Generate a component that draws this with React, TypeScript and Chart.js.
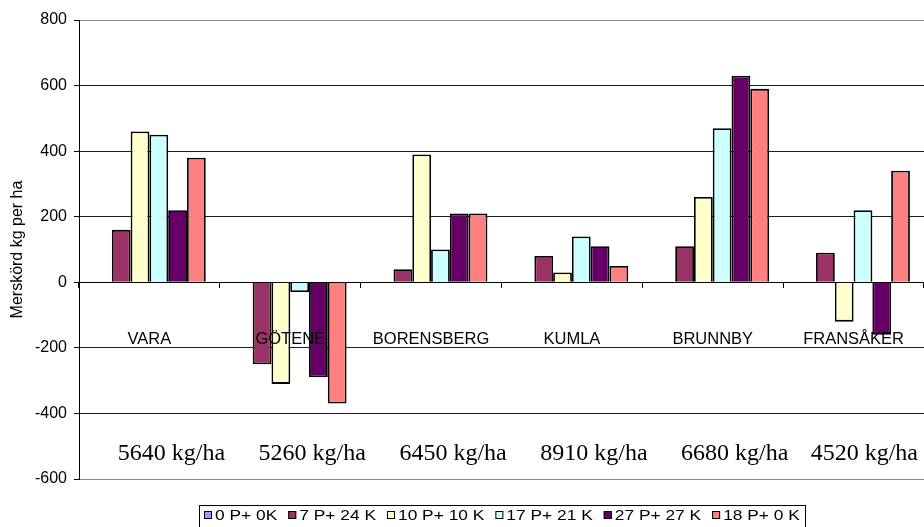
import React, { useEffect, useRef } from "react";
import { Chart, registerables } from "chart.js";

Chart.register(...registerables);

const categories = ["VARA", "GÖTENE", "BORENSBERG", "KUMLA", "BRUNNBY", "FRANSÅKER"];
const yieldLabels = ["5640 kg/ha", "5260 kg/ha", "6450 kg/ha", "8910 kg/ha", "6680 kg/ha", "4520 kg/ha"];

const seriesNames = ["0 P+ 0K", "7 P+ 24 K", "10 P+ 10 K", "17 P+ 21 K", "27 P+ 27 K", "18 P+ 0 K"];
const s0P0K = [0, 0, 0, 0, 0, 0];
const s7P24K = [160, -250, 40, 80, 110, 90];
const s10P10K = [460, -310, 390, 30, 260, -120];
const s17P21K = [450, -30, 100, 140, 470, 220];
const s27P27K = [220, -290, 210, 110, 630, -160];
const s18P0K = [380, -370, 210, 50, 590, 340];
const seriesValues = [s0P0K, s7P24K, s10P10K, s17P21K, s27P27K, s18P0K];
const seriesColors = ["#9999FF", "#993366", "#FFFFCC", "#CCFFFF", "#660066", "#FF8080"];

const yMin = -600;
const yMax = 800;
const yStep = 200;
const categoryLabelValue = -175;
const yieldLabelValue = -522;

const SANS = '"Liberation Sans", Arial, Helvetica, sans-serif';
const SERIF = '"Liberation Serif", "Times New Roman", Times, serif';

const annotationPlugin = {
  id: "annotations",
  afterDatasetsDraw(chart: any) {
    const { ctx, scales } = chart;
    const x = scales.x;
    const y = scales.y;
    ctx.save();
    ctx.fillStyle = "#000";
    ctx.textAlign = "center";
    ctx.textBaseline = "middle";
    ctx.font = `16.5px ${SANS}`;
    categories.forEach((c, i) => {
      ctx.fillText(c, x.getPixelForValue(i), y.getPixelForValue(categoryLabelValue));
    });
    ctx.font = `24px ${SERIF}`;
    yieldLabels.forEach((t, i) => {
      const w = ctx.measureText(t).width;
      let cx = x.getPixelForValue(i) + 22;
      const maxRight = chart.width - 6;
      if (cx + w / 2 > maxRight) cx = maxRight - w / 2;
      ctx.fillText(t, cx, y.getPixelForValue(yieldLabelValue));
    });
    ctx.restore();
  },
  afterDraw(chart: any) {
    const { ctx, chartArea } = chart;
    ctx.save();
    ctx.font = `15.5px ${SANS}`;
    const stretch = 1.12;
    const sq = 8;
    const gapText = 3;
    const gapItem = 11;
    const pad = 5;
    const items = chart.data.datasets.map((d: any) => ({
      label: d.label,
      color: d.backgroundColor,
      w: ctx.measureText(d.label).width * stretch,
    }));
    const total =
      items.reduce((s: number, it: any) => s + sq + gapText + it.w, 0) +
      gapItem * (items.length - 1) +
      pad * 2;
    const cx = (chartArea.left + chartArea.right) / 2;
    let x = Math.round(cx - total / 2);
    const top = Math.round(chartArea.bottom + 26);
    ctx.strokeStyle = "#000";
    ctx.lineWidth = 1;
    ctx.strokeRect(x + 0.5, top + 0.5, Math.round(total), 40);
    x += pad;
    const cy = top + 10;
    ctx.textAlign = "left";
    ctx.textBaseline = "middle";
    items.forEach((it: any) => {
      ctx.fillStyle = it.color;
      ctx.fillRect(x, cy - sq / 2, sq, sq);
      ctx.strokeStyle = "#000";
      ctx.strokeRect(x + 0.5, cy - sq / 2 + 0.5, sq - 1, sq - 1);
      x += sq + gapText;
      ctx.fillStyle = "#000";
      ctx.save();
      ctx.translate(x, cy + 1);
      ctx.scale(stretch, 1);
      ctx.fillText(it.label, 0, 0);
      ctx.restore();
      x += it.w + gapItem;
    });
    ctx.restore();
  },
};

export default function App() {
  const canvasRef = useRef<HTMLCanvasElement | null>(null);

  useEffect(() => {
    document.body.style.margin = "0";
    const canvas = canvasRef.current;
    if (!canvas) return;
    Chart.defaults.font.family = SANS;
    const chart = new Chart(canvas, {
      type: "bar",
      data: {
        labels: categories,
        datasets: seriesNames.map((name, i) => ({
          label: name,
          data: seriesValues[i],
          backgroundColor: seriesColors[i],
          borderColor: "#000",
          borderWidth: 1.8,
          categoryPercentage: 0.8,
          barPercentage: 1.0,
        })),
      },
      options: {
        responsive: false,
        animation: false,
        layout: { padding: { top: 20, bottom: 48, left: 0, right: 0 } },
        plugins: {
          legend: { display: false },
          tooltip: { enabled: false },
        },
        scales: {
          x: {
            position: { y: 0 } as any,
            ticks: { display: false },
            grid: {
              drawOnChartArea: false,
              drawTicks: true,
              tickLength: 5,
              color: "#000",
              offset: true,
            },
            border: { color: "#000", width: 1 },
          },
          y: {
            min: yMin,
            max: yMax,
            ticks: {
              stepSize: yStep,
              color: "#000",
              font: { size: 16, family: SANS },
              padding: 7,
            },
            grid: {
              color: (c: any) =>
                c.tick && (c.tick.value === yMax || c.tick.value === yMin) ? "#8a8a8a" : "#1a1a1a",
              tickColor: "#000",
              tickLength: 5,
              lineWidth: 1,
            },
            border: { color: "#000", width: 1 },
            title: {
              display: true,
              text: "Merskörd kg per ha",
              color: "#000",
              font: { size: 16, family: SANS },
              padding: { top: 8, bottom: 0 },
            },
            afterFit(scale: any) {
              scale.width = 79;
            },
          },
        },
      },
      plugins: [annotationPlugin],
    });
    return () => chart.destroy();
  }, []);

  return (
    <div style={{ width: 924, height: 527, background: "#fff" }}>
      <canvas ref={canvasRef} width={924} height={527} style={{ display: "block" }} />
    </div>
  );
}
